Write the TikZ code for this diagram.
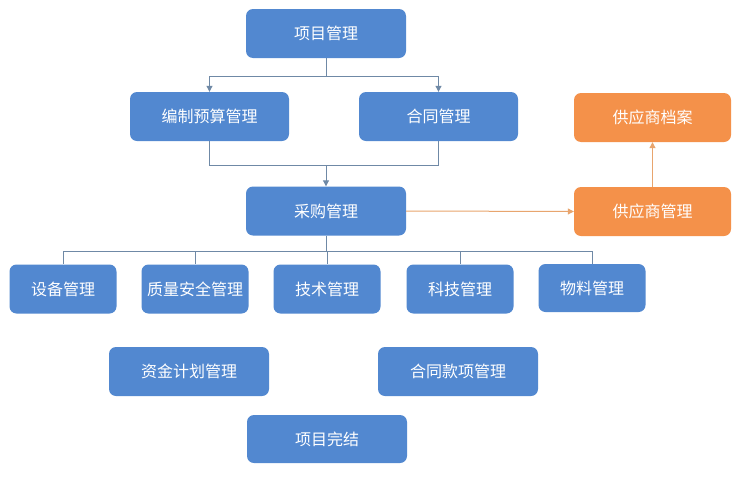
\documentclass[tikz,border=0pt]{standalone}
\usepackage{fontspec}
\newfontfamily\cjk{Noto Sans CJK SC}
\usetikzlibrary{arrows.meta}
\definecolor{bluebox}{HTML}{5288D0}
\definecolor{orangebox}{HTML}{F4914A}
\definecolor{linegray}{HTML}{6F89A6}
\definecolor{lineorange}{HTML}{E8A56E}
\tikzset{
  bx/.style={fill=bluebox, draw=none, rounded corners=7pt, minimum width=160pt, minimum height=49pt, text=white, font=\cjk\fontsize{16}{18}\selectfont, inner sep=0pt},
  bxs/.style={bx, minimum width=107pt},
  obx/.style={bx, fill=orangebox, minimum width=157pt},
  tl/.style={draw=linegray, line width=1pt},
  ta/.style={tl, -{Triangle[length=6pt,width=6pt]}},
  oa/.style={draw=lineorange, line width=1pt, -{Triangle[length=6pt,width=6pt]}},
}
\begin{document}
\begin{tikzpicture}[x=1pt,y=-1pt]
\useasboundingbox (0,0) rectangle (740,477);
\fill[white] (0,0) rectangle (740,477);
\node[bx] (pm) at (326,33.5) {项目管理};
\node[bx, minimum width=159pt] (bz) at (209.5,116.5) {编制预算管理};
\node[bx, minimum width=159pt] (ht) at (438.5,116.5) {合同管理};
\node[bx] (cg) at (326,211) {采购管理};
\node[obx] (gys) at (652.5,211.5) {供应商管理};
\node[obx] (da) at (652.5,117.5) {供应商档案};
\node[bxs] (sb) at (63,289) {设备管理};
\node[bxs] (zl) at (195,289) {质量安全管理};
\node[bxs] (js) at (327,289) {技术管理};
\node[bxs] (kj) at (460,289) {科技管理};
\node[bxs, minimum height=48pt] (wl) at (592,288) {物料管理};
\node[bx] (zj) at (189,371.5) {资金计划管理};
\node[bx] (hk) at (458,371.5) {合同款项管理};
\node[bx, minimum height=48pt] (wj) at (327,439) {项目完结};

\coordinate (s1) at (326,76);
\coordinate (s2) at (326,165);
\coordinate (s3) at (326,251);
% top split
\draw[tl] (pm.south) -- (s1);
\draw[ta] (s1) -| (bz.north);
\draw[ta] (s1) -| (ht.north);
% merge
\draw[tl] (bz.south) |- (s2);
\draw[tl] (ht.south) |- (s2);
\draw[ta] (s2) -- (cg.north);
% bottom tree
\draw[tl] (cg.south) -- (s3);
\draw[tl] (s3) -| (sb.north);
\draw[tl] (s3) -| (zl.north);
\draw[tl] (s3) -| (js.north);
\draw[tl] (s3) -| (kj.north);
\draw[tl] (s3) -| (wl.north);
% orange
\draw[oa] (cg.east) -- (gys.west);
\draw[oa] (gys.north) -- (da.south);
\end{tikzpicture}
\end{document}
